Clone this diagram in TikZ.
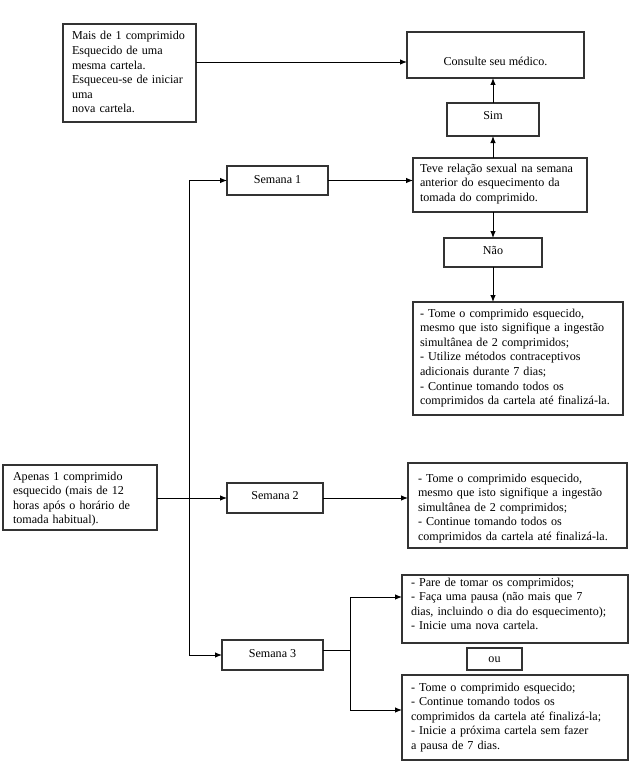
\documentclass[tikz,border=0pt]{standalone}
\usepackage{fontspec}
\setmainfont{Liberation Serif}
\usetikzlibrary{arrows.meta}

\begin{document}
\begin{tikzpicture}[x=1pt,y=-1pt,>={Latex[length=7pt,width=5.5pt]},
  caixa/.style={draw=black!80,line width=1.1pt,outer sep=0pt,inner ysep=0pt,
    anchor=north west,align=left,font={\fontsize{12.1}{14.6}\selectfont}},
  centrada/.style={caixa,align=center,inner xsep=2pt},
  seta/.style={->,line width=0.9pt}]
  \fill[white] (0,0) rectangle (641,773);
  \useasboundingbox (0,0) rectangle (641,773);

  \node[caixa,text width=115pt,inner xsep=9pt,text height=16pt,text depth=82pt] (mais) at (63,24)
    {Mais de 1 comprimido\\Esquecido de uma\\mesma cartela.\\Esqueceu-se de iniciar\\uma\\nova cartela.};
  \node[centrada,minimum width=177pt,text height=33.5pt,text depth=12.5pt] (consulte) at (407,32)
    {Consulte seu médico.};
  \node[centrada,minimum width=92pt,text height=17pt,text depth=16pt] (sim) at (447,103) {Sim};
  \node[caixa,text width=160pt,inner xsep=7pt,text height=14pt,text depth=40pt] (teve) at (413,158)
    {Teve relação sexual na semana\\anterior do esquecimento da\\tomada do comprimido.};
  \node[centrada,minimum width=98pt,text height=16pt,text depth=13pt] (nao) at (444,238) {Não};
  \node[caixa,text width=196pt,inner xsep=7pt,text height=15pt,text depth=98pt] (tome1) at (413,302)
    {- Tome o comprimido esquecido,\\mesmo que isto signifique a ingestão\\simultânea de 2 comprimidos;\\
     - Utilize métodos contraceptivos\\adicionais durante 7 dias;\\- Continue tomando todos os\\
     comprimidos da cartela até finalizá-la.};

  \node[caixa,text width=134pt,inner xsep=10pt,text height=15pt,text depth=50pt] (apenas) at (3,465)
    {Apenas 1 comprimido\\esquecido (mais de 12\\horas após o horário de\\tomada habitual).};
  \node[centrada,minimum width=101pt,text height=17pt,text depth=12pt] (semana1) at (227,166) {Semana 1};
  \node[centrada,minimum width=96pt,text height=16pt,text depth=14pt] (semana2) at (227,483) {Semana 2};
  \node[centrada,minimum width=101pt,text height=17pt,text depth=13pt] (semana3) at (222,640) {Semana 3};

  \node[caixa,text width=199pt,inner xsep=10pt,text height=19pt,text depth=66pt] (tome2) at (408,463)
    {- Tome o comprimido esquecido,\\mesmo que isto signifique a ingestão\\simultânea de 2 comprimidos;\\
     - Continue tomando todos os\\comprimidos da cartela até finalizá-la.};
  \node[caixa,text width=208pt,inner xsep=9pt,text height=11pt,text depth=57pt] (pare) at (402,575)
    {- Pare de tomar os comprimidos;\\- Faça uma pausa (não mais que 7\\
     dias, incluindo o dia do esquecimento);\\- Inicie uma nova cartela.};
  \node[centrada,minimum width=55pt,text height=14pt,text depth=8pt] (ou) at (467,648) {ou};
  \node[caixa,text width=208pt,inner xsep=9pt,text height=16pt,text depth=69pt] (tome3) at (402,675)
    {- Tome o comprimido esquecido;\\- Continue tomando todos os\\comprimidos da cartela até finalizá-la;\\
     - Inicie a próxima cartela sem fazer\\a pausa de 7 dias.};

  \coordinate (cm) at ([yshift=-7pt]consulte.west);
  \draw[seta] (mais.east |- cm) -- (cm);
  \draw[seta] (teve.north -| sim.south) -- (sim.south);
  \draw[seta] (sim.north) -- (sim.north |- consulte.south);
  \draw[seta] (teve.south -| nao.north) -- (nao.north);
  \draw[seta] (nao.south) -- (nao.south |- tome1.north);
  \draw[seta] (semana1.east) -- (semana1.east -| teve.west);

  \coordinate (tronco) at (189,498);
  \draw[seta] (apenas.east |- semana2.west) -- (semana2.west);
  \draw[seta] (tronco) |- (semana1.west);
  \draw[seta] (tronco) |- (semana3.west);
  \draw[seta] (semana2.east) -- (semana2.east -| tome2.west);

  \coordinate (ramo) at (350,650);
  \draw[line width=0.9pt] ([yshift=5pt]semana3.east) -- (ramo);
  \draw[seta] (ramo) |- ([yshift=12pt]pare.west);
  \draw[seta] (ramo) |- ([yshift=7.5pt]tome3.west);
\end{tikzpicture}
\end{document}
